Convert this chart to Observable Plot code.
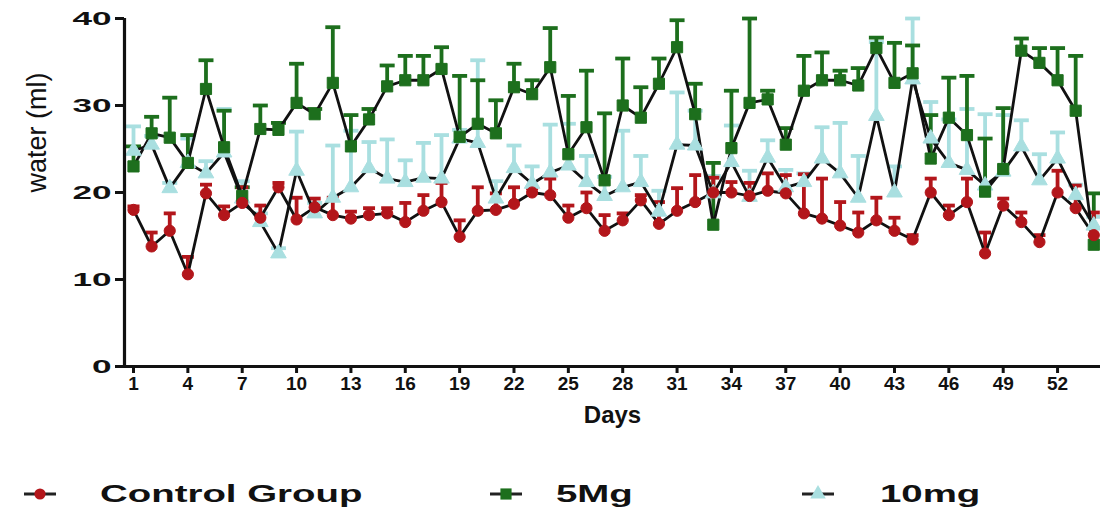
<!DOCTYPE html>
<html>
<head>
<meta charset="utf-8">
<script src="https://cdn.jsdelivr.net/npm/d3@7"></script>
<script src="https://cdn.jsdelivr.net/npm/@observablehq/plot@0.6"></script>
<style>
  html, body { margin: 0; padding: 0; background: #fff; }
  #wrap { width: 1100px; height: 514px; position: relative; font-family: "Liberation Sans", Arial, sans-serif; }
  #legend { position: relative; width: 1100px; height: 74px; }
  #legend .sw { position: absolute; top: 44px; }
  #legend .lab { position: absolute; top: 40px; font-size: 24px; font-weight: bold; color: #111;
                 transform: scaleX(1.6); transform-origin: left center; white-space: nowrap; line-height: 28px; }
</style>
</head>
<body>
<div id="wrap">
  <div id="chart"></div>
  <div id="legend"></div>
</div>
<script>
// Daily water intake (ml), mean and upper error per group
const days = [1, 2, 3, 4, 5, 6, 7, 8, 9, 10, 11, 12, 13, 14, 15, 16, 17, 18, 19, 20,
              21, 22, 23, 24, 25, 26, 27, 28, 29, 30, 31, 32, 33, 34, 35, 36, 37, 38, 39, 40,
              41, 42, 43, 44, 45, 46, 47, 48, 49, 50, 51, 52, 53, 54];

const control = [18.0, 13.8, 15.6, 10.6, 19.9, 17.4, 18.8, 17.1, 20.6, 16.9,
                 18.3, 17.4, 17.0, 17.4, 17.6, 16.6, 17.9, 18.9, 14.9, 17.9,
                 18.0, 18.7, 20.0, 19.7, 17.1, 18.2, 15.6, 16.8, 19.1, 16.4,
                 17.9, 18.9, 20.0, 20.0, 19.6, 20.2, 19.9, 17.6, 17.0, 16.2,
                 15.4, 16.8, 15.6, 14.6, 20.0, 17.4, 18.9, 13.0, 18.5, 16.6,
                 14.3, 20.0, 18.2, 15.1];
const controlErr = [0.4, 1.6, 2.0, 2.0, 1.0, 1.0, 1.8, 1.4, 0.5, 2.5,
                    1.0, 2.0, 0.8, 0.8, 0.6, 2.2, 1.8, 2.2, 1.9, 2.7,
                    1.9, 1.9, 0.5, 1.9, 1.4, 1.8, 1.8, 0.8, 0.6, 2.5,
                    2.6, 3.1, 1.7, 1.2, 1.5, 2.0, 2.1, 4.5, 4.6, 2.7,
                    2.3, 2.6, 1.5, 0.5, 1.6, 1.1, 2.7, 2.4, 0.8, 1.1,
                    0.8, 2.5, 2.6, 2.6];

const fiveMg = [23.0, 26.8, 26.3, 23.4, 31.9, 25.2, 19.6, 27.3, 27.2, 30.3,
                29.0, 32.6, 25.3, 28.4, 32.2, 32.9, 32.9, 34.2, 26.4, 27.9,
                26.8, 32.1, 31.3, 34.4, 24.4, 27.5, 21.4, 30.0, 28.6, 32.5,
                36.7, 29.0, 16.3, 25.1, 30.3, 30.7, 25.5, 31.7, 32.9, 32.9,
                32.3, 36.6, 32.6, 33.7, 23.9, 28.6, 26.6, 20.1, 22.7, 36.3,
                34.9, 32.9, 29.4, 14.0];
const fiveMgErr = [2.3, 1.9, 4.6, 3.2, 3.3, 4.2, 1.0, 2.7, 0.8, 4.5,
                   0.6, 6.4, 3.6, 1.2, 2.4, 2.8, 2.8, 2.5, 7.0, 5.0,
                   3.8, 2.7, 1.6, 4.5, 6.7, 6.5, 7.7, 5.4, 3.5, 2.9,
                   3.1, 3.5, 7.1, 6.6, 9.7, 1.0, 1.9, 4.0, 3.2, 1.1,
                   2.0, 1.2, 4.6, 3.2, 5.0, 4.6, 6.8, 6.1, 7.0, 1.4,
                   1.7, 3.7, 6.3, 5.9];

const tenMg = [24.8, 25.5, 20.5, 23.4, 22.2, 24.6, 19.3, 16.6, 13.0, 22.5,
               17.6, 19.4, 20.6, 22.8, 21.6, 21.2, 21.7, 21.6, 26.2, 25.7,
               19.3, 22.8, 21.0, 22.3, 23.1, 21.2, 19.6, 20.6, 21.2, 17.8,
               25.5, 25.4, 19.9, 23.5, 19.5, 24.0, 20.6, 21.2, 23.9, 22.2,
               19.4, 28.8, 20.0, 33.0, 26.2, 23.4, 22.6, 20.8, 22.4, 25.3,
               21.4, 23.9, 19.7, 16.2];
const tenMgErr = [2.8, 1.0, 0.6, 2.8, 1.4, 5.0, 2.0, 1.0, 0.6, 4.5,
                  1.2, 6.0, 6.5, 3.0, 4.5, 2.5, 4.0, 5.0, 1.0, 9.5,
                  2.0, 2.6, 2.0, 5.5, 4.8, 3.0, 2.2, 6.5, 3.0, 2.4,
                  6.0, 4.0, 2.0, 4.2, 3.0, 2.0, 2.0, 1.0, 3.6, 5.8,
                  4.8, 8.5, 3.0, 7.0, 4.2, 5.0, 7.0, 8.2, 6.5, 3.0,
                  3.0, 3.0, 1.2, 1.0];

const groupNames = ["Control Group", "5Mg", "10mg"];
const xTicks = [1, 4, 7, 10, 13, 16, 19, 22, 25, 28, 31, 34, 37, 40, 43, 46, 49, 52];
const yTicks = [0, 10, 20, 30, 40];

const groups = [
  {name: groupNames[0], mean: control, err: controlErr, color: "#b3161b", symbol: "circle",   r: 5.6, cap: 6},
  {name: groupNames[1], mean: fiveMg,  err: fiveMgErr,  color: "#1d6f1d", symbol: "square",   r: 6.3, cap: 7.5},
  {name: groupNames[2], mean: tenMg,   err: tenMgErr,   color: "#a9dfe0", symbol: "triangle", r: 5.8, cap: 7.5}
];

// horizontal cap drawn at the top of each error bar
const capSymbol = {
  draw(context, size) {
    const w = Math.sqrt(size / Math.PI);
    context.moveTo(-w, 0);
    context.lineTo(w, 0);
  }
};

const rowsOf = g => days.map((d, i) => ({group: g.name, day: d, value: g.mean[i], top: g.mean[i] + g.err[i]}));
const drawOrder = [groups[2], groups[1], groups[0]];

const xDomain = [0.503, 54.37];

const marks = [];
// error bars
for (const g of drawOrder) {
  const rows = rowsOf(g);
  marks.push(Plot.ruleX(rows, {x: "day", y1: "value", y2: "top", stroke: g.color, strokeWidth: 3.8}));
  marks.push(Plot.dot(rows, {x: "day", y: "top", symbol: capSymbol, r: g.cap, fill: "none", stroke: g.color, strokeWidth: 3.8}));
}
// connecting lines
for (const g of drawOrder) {
  marks.push(Plot.line(rowsOf(g), {x: "day", y: "value", stroke: "#111", strokeWidth: 2.8}));
}
// point markers
for (const g of drawOrder) {
  marks.push(Plot.dot(rowsOf(g), {x: "day", y: "value", symbol: g.symbol, r: g.r, fill: g.color, stroke: g.color, strokeWidth: 1}));
}

const chart = Plot.plot({
  width: 1100,
  height: 440,
  marginLeft: 124,
  marginRight: 0,
  marginTop: 18,
  marginBottom: 74,
  style: {fontFamily: "'Liberation Sans', Arial, sans-serif", background: "#fff", color: "#111", overflow: "visible"},
  x: {domain: xDomain},
  y: {domain: [0, 40]},
  marks: [
    ...marks,
    Plot.axisX({ticks: xTicks, tickSize: 7, tickPadding: 3, fontSize: 19, fontWeight: "bold", label: null, strokeWidth: 3}),
    Plot.axisY({ticks: yTicks, tickSize: 9, tickPadding: 4, fontSize: 19, fontWeight: "bold", label: null, strokeWidth: 3}),
    Plot.ruleY([0], {stroke: "#111", strokeWidth: 3}),
    Plot.ruleX([xDomain[0]], {stroke: "#111", strokeWidth: 3.2}),
    Plot.text(["water (ml)"], {frameAnchor: "left", dx: -87, rotate: -90, fontSize: 27, fill: "#111", ariaLabel: "y-title"}),
    Plot.text(["Days"], {frameAnchor: "bottom", dy: 56, fontSize: 24, fontWeight: "bold", fill: "#111", ariaLabel: "x-title"})
  ]
});
document.getElementById("chart").appendChild(chart);

// widen some labels horizontally, keeping their anchor in place
function stretch(text, s) {
  const w = text.getComputedTextLength();
  if (w > 0) {
    text.setAttribute("textLength", (w * s).toFixed(1));
    text.setAttribute("lengthAdjust", "spacingAndGlyphs");
  }
}
chart.querySelectorAll('g[aria-label="y-axis tick label"] text').forEach(t => stretch(t, 1.85));
chart.querySelectorAll('g[aria-label="x-title"] text').forEach(t => stretch(t, 1.55));

// legend
const legend = document.getElementById("legend");
const swatchLeft = [18, 484, 796];
const labelLeft = [100, 556, 880];
groups.forEach((g, i) => {
  const sw = document.createElementNS("http://www.w3.org/2000/svg", "svg");
  sw.setAttribute("width", 46);
  sw.setAttribute("height", 20);
  sw.setAttribute("class", "sw");
  sw.style.left = swatchLeft[i] + "px";
  d3.select(sw).append("line").attr("x1", 6).attr("x2", 38).attr("y1", 10).attr("y2", 10)
    .attr("stroke", "#222").attr("stroke-width", 3);
  const sym = d3.symbol().type(g.symbol === "circle" ? d3.symbolCircle : g.symbol === "square" ? d3.symbolSquare : d3.symbolTriangle)
    .size(g.r * g.r * Math.PI);
  d3.select(sw).append("path").attr("d", sym()).attr("transform", "translate(22,10)").attr("fill", g.color);
  legend.appendChild(sw);
  const lab = document.createElement("div");
  lab.className = "lab";
  lab.style.left = labelLeft[i] + "px";
  lab.textContent = g.name;
  legend.appendChild(lab);
});
</script>
</body>
</html>
